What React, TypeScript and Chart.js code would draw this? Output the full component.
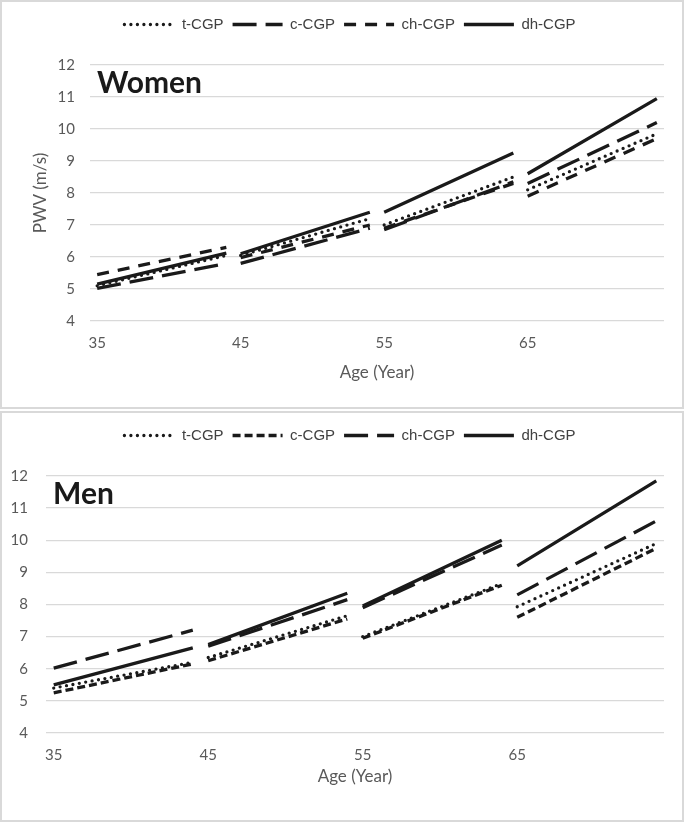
import React, { useEffect, useRef } from "react";
import { Chart, registerables } from "chart.js";
Chart.register(...registerables);

// ---- data ----
const seriesNames = ["t-CGP", "c-CGP", "ch-CGP", "dh-CGP"];
// segment endpoints (start/end age of each decade segment)
const segmentAges = [35, 44, 45, 54, 55, 64, 65, 74];
const xTickLabels = [35, 45, 55, 65];
const yMin = 4;
const yMax = 12;

// Women: values at the segment endpoints above
const womenT = [5.1, 6.05, 6.05, 7.2, 7.0, 8.5, 8.1, 9.85];
const womenC = [5.02, 5.8, 5.8, 6.9, 6.85, 8.35, 8.3, 10.2];
const womenCh = [5.45, 6.3, 5.98, 7.0, 6.9, 8.3, 7.9, 9.7];
const womenDh = [5.15, 6.12, 6.1, 7.4, 7.4, 9.25, 8.6, 10.95];

// Men
const menT = [5.4, 6.2, 6.35, 7.65, 7.0, 8.65, 7.93, 9.9];
const menC = [5.25, 6.15, 6.25, 7.55, 6.95, 8.6, 7.6, 9.75];
const menCh = [6.02, 7.2, 6.7, 8.15, 7.9, 9.85, 8.3, 10.6];
const menDh = [5.5, 6.65, 6.75, 8.35, 7.95, 10.0, 9.2, 11.85];

const womenDashes = [[0, 6.5], [24, 9], [12, 9], []];
const menDashes = [[0, 6.5], [8, 4], [24, 9], []];

const LINE = "#1a1a1a";
const GRAY = "#595959";

function toPoints(vals: number[]) {
  const pts: { x: number; y: number | null }[] = [];
  for (let i = 0; i < segmentAges.length; i += 2) {
    if (i > 0) pts.push({ x: (segmentAges[i - 1] + segmentAges[i]) / 2, y: null });
    pts.push({ x: segmentAges[i], y: vals[i] });
    pts.push({ x: segmentAges[i + 1], y: vals[i + 1] });
  }
  return pts;
}

type PanelProps = {
  title: string;
  series: number[][];
  dashes: number[][];
  yTitle?: string;
  width: number;
  height: number;
  padLeft: number;
  yWidth: number;
  yTickPad: number;
  xHeight: number;
  padBottom: number;
};

function Panel(p: PanelProps) {
  const ref = useRef<HTMLCanvasElement>(null);
  useEffect(() => {
    if (!ref.current) return;
    const legendGap = {
      id: "legendGap",
      beforeInit(chart: any) {
        const leg = chart.legend;
        if (!leg) return;
        const orig = leg.fit;
        leg.fit = function () {
          orig.call(this);
          this.height += 23;
        };
      },
      afterLayout(chart: any) {
        const leg = chart.legend;
        if (!leg) return;
        const d = 348 - (leg.left + leg.right) / 2;
        leg.left += d;
        leg.right += d;
      },
    };
    const panelTitle = {
      id: "panelTitle",
      afterDraw(chart: any) {
        const ctx = chart.ctx;
        ctx.save();
        ctx.font = "bold 30px Lato";
        ctx.fillStyle = "#1a1a1a";
        ctx.textAlign = "left";
        ctx.textBaseline = "alphabetic";
        ctx.fillText(p.title, chart.chartArea.left + 7, 91);
        ctx.restore();
      },
    };
    const chart = new Chart(ref.current, {
      type: "line",
      data: {
        datasets: seriesNames.map((name, i) => ({
          label: name,
          data: toPoints(p.series[i]) as any,
          borderColor: LINE,
          backgroundColor: LINE,
          borderWidth: 3.3,
          borderDash: p.dashes[i],
          borderCapStyle: i === 0 ? "round" : "butt",
          pointRadius: 0,
          pointHoverRadius: 0,
          fill: false,
          tension: 0,
          spanGaps: false,
        })),
      },
      options: {
        responsive: false,
        animation: false,
        layout: { padding: { left: p.padLeft, right: 18, top: 6, bottom: p.padBottom } },
        plugins: {
          legend: {
            position: "top",
            labels: {
              usePointStyle: true,
              pointStyle: "line",
              pointStyleWidth: 50,
              padding: 9,
              color: "#404040",
              font: { family: "'Liberation Sans', Arial", size: 15 },
              generateLabels: (chart: any) => {
                const items = Chart.defaults.plugins.legend.labels.generateLabels(chart);
                return items.map((it: any) => {
                  const ds = chart.data.datasets[it.datasetIndex];
                  return {
                    ...it,
                    pointStyle: "line",
                    lineDash: ds.borderDash,
                    lineCap: ds.borderCapStyle,
                    lineWidth: ds.borderWidth,
                    strokeStyle: ds.borderColor,
                  };
                });
              },
            },
          },
          tooltip: { enabled: false },
        },
        scales: {
          x: {
            type: "linear",
            min: 34.5,
            max: 74.5,
            afterBuildTicks: (scale: any) => {
              scale.ticks = xTickLabels.map((v) => ({ value: v }));
            },
            afterFit: (scale: any) => {
              scale.height = p.xHeight;
            },
            grid: { display: false, drawTicks: false },
            border: { display: false },
            ticks: {
              padding: 13,
              color: GRAY,
              font: { family: "Lato", size: 15 },
              autoSkip: false,
              maxRotation: 0,
              callback: (v: any) => String(v),
            },
            title: {
              display: true,
              text: "Age (Year)",
              color: GRAY,
              font: { family: "Lato", size: 17 },
              padding: { top: 0, bottom: 0 },
            },
          },
          y: {
            min: yMin,
            max: yMax,
            afterFit: (scale: any) => {
              scale.width = p.yWidth;
            },
            grid: { color: "#d9d9d9", lineWidth: 1.3, drawTicks: false },
            border: { display: false },
            ticks: {
              stepSize: 1,
              padding: p.yTickPad,
              color: GRAY,
              font: { family: "Lato", size: 15 },
            },
            title: {
              display: !!p.yTitle,
              text: p.yTitle || "",
              color: GRAY,
              font: { family: "Lato", size: 17 },
              padding: { top: -6, bottom: 0 },
            },
          },
        },
      } as any,
      plugins: [legendGap, panelTitle],
    });
    return () => chart.destroy();
  }, []);
  return <canvas ref={ref} width={p.width} height={p.height} style={{ display: "block" }} />;
}

export default function App() {
  const box = (top: number, h: number): React.CSSProperties => ({
    position: "absolute",
    left: 0,
    top,
    width: 684,
    height: h,
    boxSizing: "border-box",
    border: "2px solid #d9d9d9",
    background: "#fff",
  });
  return (
    <div style={{ position: "absolute", left: 0, top: 0, width: 686, height: 822, background: "#fff" }}>
      <div style={box(0, 409)}>
        <Panel
          title="Women"
          series={[womenT, womenC, womenCh, womenDh]}
          dashes={womenDashes}
          yTitle="PWV (m/s)"
          width={680}
          height={405}
          padLeft={34}
          yWidth={54}
          yTickPad={15}
          xHeight={62}
          padBottom={24}
        />
      </div>
      <div style={box(411, 411)}>
        <Panel
          title="Men"
          series={[menT, menC, menCh, menDh]}
          dashes={menDashes}
          width={680}
          height={407}
          padLeft={0}
          yWidth={44}
          yTickPad={18}
          xHeight={54}
          padBottom={33}
        />
      </div>
    </div>
  );
}
